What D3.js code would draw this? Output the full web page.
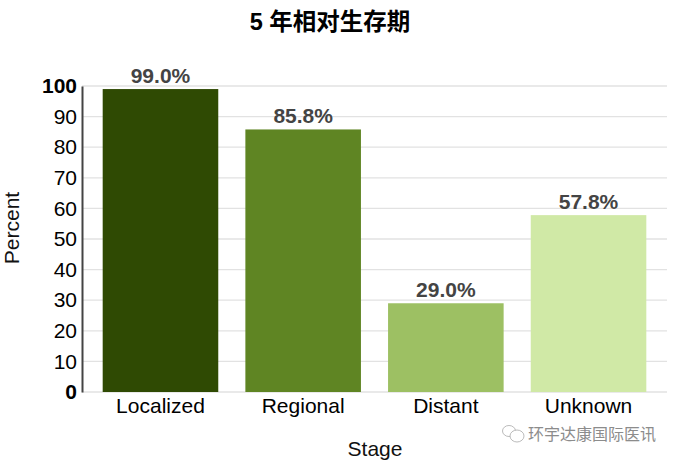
<!DOCTYPE html>
<html>
<head>
<meta charset="utf-8">
<script src="https://cdn.jsdelivr.net/npm/d3@7/dist/d3.min.js"></script>
<style>
html, body { margin: 0; padding: 0; background: #fff; }
svg { display: block; }
text { font-family: "Liberation Sans", Arial, sans-serif; }
</style>
</head>
<body>
<div id="chart"></div>
<script>
// Data
var stages = ['Localized', 'Regional', 'Distant', 'Unknown'];
var percents = [99.0, 85.8, 29.0, 57.8];
var barColors = ['#2f4a03', '#5f8523', '#9dc063', '#d0e9a6'];
var yTicks = [0, 10, 20, 30, 40, 50, 60, 70, 80, 90, 100];

var svgwidth = 677;
var svgheight = 464;
var left = 82, right = 667, top_y = 86, bottom = 392;

var svg = d3.select('#chart')
            .append('svg')
            .attr('width', svgwidth)
            .attr('height', svgheight);

var xscale = d3.scaleBand()
               .domain(stages)
               .range([left, right])
               .paddingInner(0.19)
               .paddingOuter(0.145);

var yscale = d3.scaleLinear()
               .domain([0, 100])
               .range([bottom, top_y]);

// grid lines
svg.append('g')
   .selectAll('line')
   .data(yTicks)
   .join('line')
   .attr('x1', left)
   .attr('x2', right)
   .attr('y1', d => yscale(d))
   .attr('y2', d => yscale(d))
   .attr('stroke', '#e2e2e2')
   .attr('stroke-width', 1.3);

// y axis
var yaxis = d3.axisLeft(yscale)
              .tickValues(yTicks)
              .tickSize(0)
              .tickPadding(5);
var yg = svg.append('g')
            .attr('transform', 'translate(' + left + ',0)')
            .call(yaxis);
yg.select('.domain')
  .attr('stroke', '#444')
  .attr('stroke-width', 2);
yg.selectAll('text')
  .attr('fill', '#000')
  .style('font-size', '21px')
  .style('font-family', '"Liberation Sans", Arial, sans-serif')
  .style('font-weight', d => (d === 0 || d === 100) ? 'bold' : 'normal');

// x axis
var xaxis = d3.axisBottom(xscale).tickSize(0).tickPadding(6);
var xg = svg.append('g')
            .attr('transform', 'translate(0,' + bottom + ')')
            .call(xaxis);
xg.select('.domain').remove();
xg.selectAll('text')
  .attr('fill', '#000')
  .style('font-size', '21px')
  .style('font-family', '"Liberation Sans", Arial, sans-serif');

// bars
svg.append('g')
   .selectAll('rect')
   .data(stages)
   .join('rect')
   .attr('x', d => xscale(d))
   .attr('y', (d, i) => yscale(percents[i]))
   .attr('width', xscale.bandwidth())
   .attr('height', (d, i) => bottom - yscale(percents[i]))
   .attr('fill', (d, i) => barColors[i]);

// value labels
svg.append('g')
   .selectAll('text')
   .data(stages)
   .join('text')
   .attr('x', d => xscale(d) + xscale.bandwidth() / 2)
   .attr('y', (d, i) => yscale(percents[i]) - 6)
   .attr('text-anchor', 'middle')
   .attr('fill', '#444')
   .style('font-size', '21px')
   .style('font-weight', 'bold')
   .text((d, i) => percents[i].toFixed(1) + '%');

// title and axis names
svg.append('text')
   .attr('x', 330)
   .attr('y', 30)
   .attr('text-anchor', 'middle')
   .attr('fill', '#000')
   .style('font-size', '23.5px')
   .style('font-weight', 'bold')
   .style('font-family', '"Liberation Sans", "Noto Sans CJK SC", sans-serif')
   .text('5 年相对生存期');

svg.append('text')
   .attr('x', 375)
   .attr('y', 456)
   .attr('text-anchor', 'middle')
   .attr('fill', '#111')
   .style('font-size', '21px')
   .text('Stage');

svg.append('text')
   .attr('transform', 'translate(19,228) rotate(-90)')
   .attr('text-anchor', 'middle')
   .attr('fill', '#111')
   .style('font-size', '21px')
   .text('Percent');

// watermark
var mark = svg.append('g').attr('fill', '#fff').attr('stroke', '#aaa').attr('stroke-width', 0.8);
mark.append('ellipse').attr('cx', 509).attr('cy', 431).attr('rx', 6.5).attr('ry', 5.5);
mark.append('ellipse').attr('cx', 517).attr('cy', 436).attr('rx', 7).attr('ry', 6);

svg.append('text')
   .attr('x', 528)
   .attr('y', 440)
   .attr('fill', '#8c8c8c')
   .style('font-size', '16px')
   .style('font-family', '"Noto Sans CJK SC", sans-serif')
   .text('环宇达康国际医讯');
</script>
</body>
</html>
